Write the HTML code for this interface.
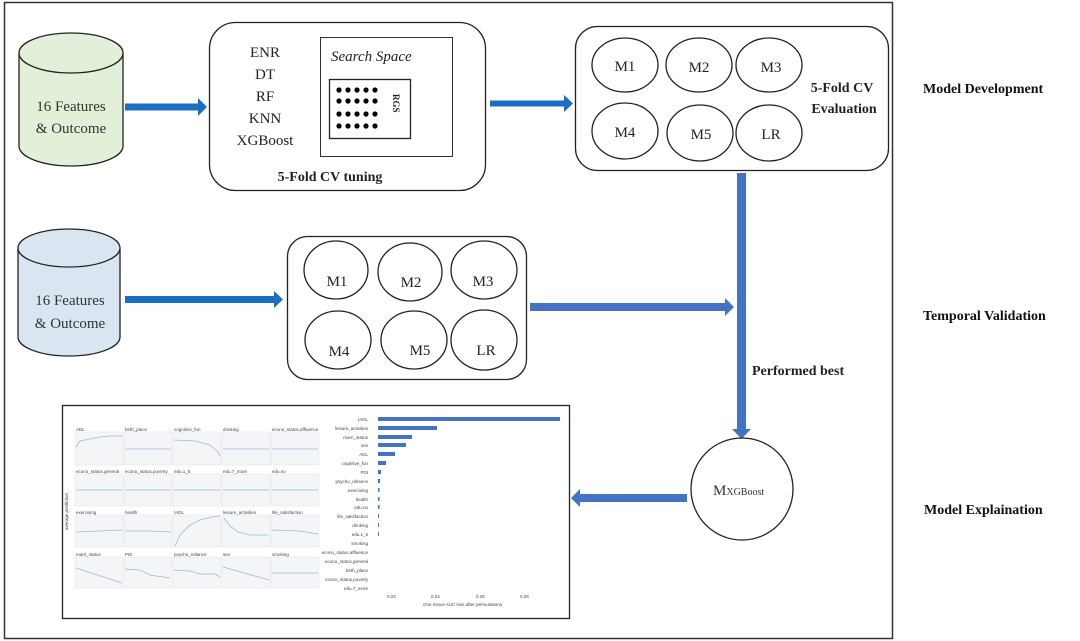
<!DOCTYPE html>
<html><head><meta charset="utf-8"><style>
html,body{margin:0;padding:0;background:#fff}
svg{display:block}
.s{font-family:"Liberation Serif",serif}
.a{font-family:"Liberation Sans",sans-serif}
</style></head><body>
<svg width="1080" height="641" viewBox="0 0 1080 641" xmlns="http://www.w3.org/2000/svg">
<defs>
<g id="arrR"><rect x="0" y="-3.5" width="1" height="7"/></g>
</defs>
<rect x="4.5" y="2.5" width="888" height="636" fill="#fff" stroke="#333" stroke-width="1.5"/>

<!-- cylinder 1 -->
<path d="M19 53 V146 A52 20 0 0 0 123 146 V53" fill="#e2efd9" stroke="#222" stroke-width="1.3"/>
<ellipse cx="71" cy="53" rx="52" ry="20" fill="#e2efd9" stroke="#222" stroke-width="1.3"/>
<text class="s" x="71" y="111" font-size="15" text-anchor="middle" fill="#333">16 Features</text>
<text class="s" x="71" y="133" font-size="15" text-anchor="middle" fill="#333">&amp; Outcome</text>

<!-- arrow 1 -->
<path d="M125 103.5 H198 V98 L207 107 L198 116 V110.5 H125 Z" fill="#1a6fc4"/>

<!-- box 1 -->
<rect x="209.5" y="22.5" width="276" height="168" rx="26" fill="#fff" stroke="#222" stroke-width="1.3"/>
<g class="s" font-size="15" text-anchor="middle" fill="#222">
<text x="265" y="57">ENR</text><text x="265" y="79">DT</text><text x="265" y="101">RF</text><text x="265" y="123">KNN</text><text x="265" y="145">XGBoost</text>
</g>
<rect x="320.5" y="37.5" width="132" height="119" fill="#fff" stroke="#333" stroke-width="1"/>
<text class="s" x="331" y="61" font-size="15" font-style="italic" fill="#222">Search Space</text>
<rect x="329.5" y="79.5" width="81" height="59" fill="#fff" stroke="#222" stroke-width="1.3"/>
<g fill="#000">
<circle cx="339" cy="90" r="2.6"/><circle cx="348" cy="90" r="2.6"/><circle cx="357" cy="90" r="2.6"/><circle cx="366" cy="90" r="2.6"/><circle cx="375" cy="90" r="2.6"/>
<circle cx="339" cy="101" r="2.6"/><circle cx="348" cy="101" r="2.6"/><circle cx="357" cy="101" r="2.6"/><circle cx="366" cy="101" r="2.6"/><circle cx="375" cy="101" r="2.6"/>
<circle cx="339" cy="114" r="2.6"/><circle cx="348" cy="114" r="2.6"/><circle cx="357" cy="114" r="2.6"/><circle cx="366" cy="114" r="2.6"/><circle cx="375" cy="114" r="2.6"/>
<circle cx="339" cy="126" r="2.6"/><circle cx="348" cy="126" r="2.6"/><circle cx="357" cy="126" r="2.6"/><circle cx="366" cy="126" r="2.6"/><circle cx="375" cy="126" r="2.6"/>
</g>
<text class="s" x="393" y="94" font-size="9" font-weight="bold" transform="rotate(90 393 94)" fill="#222">RGS</text>
<text class="s" x="330" y="181" font-size="14" font-weight="bold" text-anchor="middle" fill="#222">5-Fold CV tuning</text>

<!-- arrow 2 -->
<path d="M490 100.5 H564 V95 L573 103.5 L564 112 V106.5 H490 Z" fill="#1a6fc4"/>

<!-- box 2 -->
<rect x="575.5" y="26.5" width="313" height="144" rx="22" fill="#fff" stroke="#222" stroke-width="1.3"/>
<g fill="#fff" stroke="#222" stroke-width="1.3">
<ellipse cx="625" cy="65" rx="33" ry="27"/><ellipse cx="699" cy="65" rx="33" ry="27"/><ellipse cx="769" cy="65" rx="33" ry="27"/>
<ellipse cx="625" cy="131" rx="33" ry="28"/><ellipse cx="700" cy="133" rx="33" ry="28"/><ellipse cx="769" cy="133" rx="33" ry="28"/>
</g>
<g class="s" font-size="15" text-anchor="middle" fill="#222">
<text x="625" y="71">M1</text><text x="699" y="72">M2</text><text x="771" y="72">M3</text>
<text x="625" y="137">M4</text><text x="701" y="139">M5</text><text x="771" y="139">LR</text>
</g>
<text class="s" x="842" y="92" font-size="14" font-weight="bold" text-anchor="middle" fill="#222">5-Fold CV</text>
<text class="s" x="844" y="113" font-size="14" font-weight="bold" text-anchor="middle" fill="#222">Evaluation</text>

<!-- vertical arrow -->
<path d="M737 173 H746 V429 H751 L741.5 439 L732 429 H737 Z" fill="#4472c4"/>

<!-- cylinder 2 -->
<path d="M18 248 V337 A51 19 0 0 0 120 337 V248" fill="#dae5f2" stroke="#222" stroke-width="1.3"/>
<ellipse cx="69" cy="248" rx="51" ry="19" fill="#dae5f2" stroke="#222" stroke-width="1.3"/>
<text class="s" x="70" y="305" font-size="15" text-anchor="middle" fill="#333">16 Features</text>
<text class="s" x="70" y="328" font-size="15" text-anchor="middle" fill="#333">&amp; Outcome</text>

<!-- arrow 3 -->
<path d="M125 296 H274 V291 L283 299.5 L274 308 V303 H125 Z" fill="#1a6fc4"/>

<!-- box 3 -->
<rect x="287.5" y="236.5" width="239" height="143" rx="20" fill="#fff" stroke="#222" stroke-width="1.3"/>
<g fill="#fff" stroke="#222" stroke-width="1.3">
<ellipse cx="336" cy="270" rx="32" ry="29"/><ellipse cx="410" cy="272" rx="32" ry="29"/><ellipse cx="484" cy="270" rx="33" ry="29"/>
<ellipse cx="338" cy="340" rx="33" ry="29"/><ellipse cx="414" cy="340" rx="33" ry="29"/><ellipse cx="484" cy="340" rx="33" ry="30"/>
</g>
<g class="s" font-size="15" text-anchor="middle" fill="#222">
<text x="337" y="286">M1</text><text x="411" y="287">M2</text><text x="483" y="286">M3</text>
<text x="339" y="356">M4</text><text x="420" y="355">M5</text><text x="486" y="355">LR</text>
</g>

<!-- arrow 4 -->
<path d="M530 303 H725 V298 L734 307 L725 316 V311 H530 Z" fill="#4472c4"/>
<text class="s" x="752" y="375" font-size="14" font-weight="bold" fill="#222">Performed best</text>

<!-- circle -->
<circle cx="742" cy="489" r="51" fill="#fff" stroke="#222" stroke-width="1.3"/>
<text class="s" x="713" y="495" font-size="15" fill="#333">M<tspan font-size="10">XGBoost</tspan></text>

<!-- left arrow -->
<path d="M687 494 H580 V489 L571 498 L580 507 V502 H687 Z" fill="#4472c4"/>

<!-- right labels -->
<g class="s" font-size="14" font-weight="bold" fill="#111">
<text x="923" y="93">Model Development</text>
<text x="923" y="320">Temporal Validation</text>
<text x="924" y="514">Model Explaination</text>
</g>

<!-- chart box -->
<rect x="62.5" y="405.5" width="507" height="213" fill="#fff" stroke="#222" stroke-width="1.3"/>
<g class="a" font-size="4.5" fill="#444">
<!-- small multiples -->
<g fill="#f4f5f7" stroke="#e3e3e3" stroke-width="0.5">
<rect x="75" y="432" width="48" height="33"/><rect x="124" y="432" width="48" height="33"/><rect x="173" y="432" width="48" height="33"/><rect x="222" y="432" width="48" height="33"/><rect x="271" y="432" width="48" height="33"/>
<rect x="75" y="474" width="48" height="32"/><rect x="124" y="474" width="48" height="32"/><rect x="173" y="474" width="48" height="32"/><rect x="222" y="474" width="48" height="32"/><rect x="271" y="474" width="48" height="32"/>
<rect x="75" y="515" width="48" height="32"/><rect x="124" y="515" width="48" height="32"/><rect x="173" y="515" width="48" height="32"/><rect x="222" y="515" width="48" height="32"/><rect x="271" y="515" width="48" height="32"/>
<rect x="75" y="557" width="48" height="31"/><rect x="124" y="557" width="48" height="31"/><rect x="173" y="557" width="48" height="31"/><rect x="222" y="557" width="48" height="31"/><rect x="271" y="557" width="48" height="31"/>
</g>
<text x="76" y="431">ADL</text><text x="125" y="431">birth_place</text><text x="174" y="431">cognitive_fun</text><text x="223" y="431">drinking</text><text x="272" y="431">econo_status.affluence</text>
<text x="76" y="473">econo_status.general</text><text x="125" y="473">econo_status.poverty</text><text x="174" y="473">edu.1_6</text><text x="223" y="473">edu.7_more</text><text x="272" y="473">edu.no</text>
<text x="76" y="514">exercising</text><text x="125" y="514">health</text><text x="174" y="514">IADL</text><text x="223" y="514">leisure_activities</text><text x="272" y="514">life_satisfaction</text>
<text x="76" y="556">marri_status</text><text x="125" y="556">PDI</text><text x="174" y="556">psycho_reliance</text><text x="223" y="556">sex</text><text x="272" y="556">smoking</text>
<text x="68" y="530" transform="rotate(-90 68 530)">average prediction</text>
<g fill="none" stroke="#9bb8de" stroke-width="0.8">
<path d="M76 447 L80 441 L90 439 L100 437 L110 436 L122 436"/>
<path d="M125 449 H171"/><path d="M174 440 L195 441 L210 445 L218 452 L220 456"/><path d="M223 449 H269"/><path d="M272 449 H318"/>
<path d="M76 490 H122"/><path d="M125 490 H171"/><path d="M174 490 H220"/><path d="M223 490 H269"/><path d="M272 490 H318"/>
<path d="M76 532 L122 530"/><path d="M125 531 L150 531 L171 532"/><path d="M175 546 L180 535 L190 525 L200 520 L212 517 L220 516"/><path d="M224 518 L230 526 L238 532 L250 535 L268 535"/><path d="M272 530 L300 531 L318 534"/>
<path d="M76 568 L122 583"/><path d="M125 569 L140 570 L150 575 L170 578"/><path d="M174 570 L190 571 L200 574 L215 574 L220 577"/><path d="M223 567 L269 580"/><path d="M272 573 H318"/>
</g>
<!-- bar chart -->
<g text-anchor="end">
<text x="368" y="421">IADL</text><text x="368" y="430">leisure_activities</text><text x="368" y="439">marri_status</text><text x="368" y="447">sex</text><text x="368" y="456">ADL</text><text x="368" y="465">cognitive_fun</text><text x="368" y="474">PDI</text><text x="368" y="483">psycho_reliance</text><text x="368" y="492">exercising</text><text x="368" y="501">health</text><text x="368" y="509">edu.no</text><text x="368" y="518">life_satisfaction</text><text x="368" y="527">drinking</text><text x="368" y="536">edu.1_6</text><text x="368" y="545">smoking</text><text x="368" y="554">econo_status.affluence</text><text x="368" y="563">econo_status.general</text><text x="368" y="572">birth_place</text><text x="368" y="581">econo_status.poverty</text><text x="368" y="590">edu.7_more</text>
</g>
<g fill="#4472c4">
<rect x="378" y="417" width="182" height="4"/><rect x="378" y="426" width="59" height="4"/><rect x="378" y="435" width="34" height="4"/><rect x="378" y="443" width="28" height="4"/><rect x="378" y="452" width="17" height="4"/><rect x="378" y="461" width="8" height="4"/><rect x="378" y="470" width="3" height="4"/><rect x="378" y="479" width="2" height="4"/><rect x="378" y="488" width="1.5" height="4"/><rect x="378" y="497" width="1.5" height="4"/><rect x="378" y="505" width="1.5" height="4"/><rect x="378" y="514" width="1" height="4"/><rect x="378" y="523" width="1" height="4"/><rect x="378" y="532" width="1" height="4"/>
</g>
<text x="387" y="598">0.22</text><text x="431" y="598">0.24</text><text x="476" y="598">0.26</text><text x="520" y="598">0.28</text>
<text x="423" y="606">One minus AUC loss after permutations</text>
</g>
</svg>
</body></html>
